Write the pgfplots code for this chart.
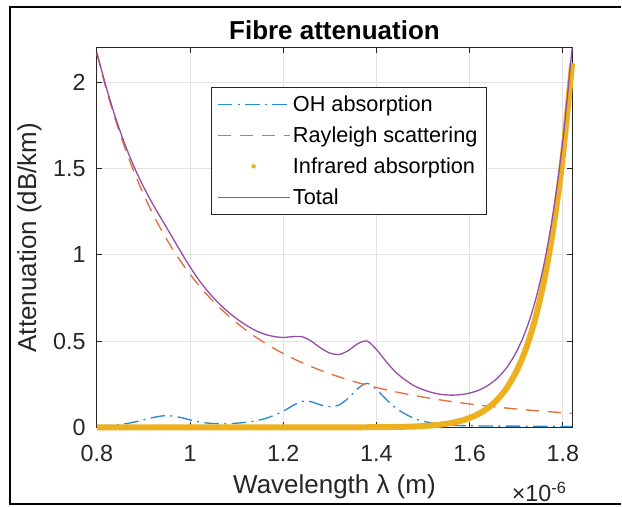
\documentclass[border=0pt]{standalone}
\usepackage{fontspec}
\setmainfont{Liberation Sans}
\usepackage{pgfplots}
\pgfplotsset{compat=1.18}
\usepackage{pgfplotstable}
\usetikzlibrary{calc}

\definecolor{AxInk}{HTML}{262626}
\definecolor{GridGray}{HTML}{E3E3E3}
\definecolor{MBlue}{HTML}{2A8AD0}
\definecolor{MOrange}{HTML}{E0703F}
\definecolor{MYellow}{HTML}{EDB120}
\definecolor{MPurple}{HTML}{9550A5}

% lambda (x1e-6 m), OH, Rayleigh, infrared, total (dB/km)
\pgfplotstableread{
lam  oh    ray    ir     tot
0.80 0.008 2.1665 0      2.1745
0.82 0.010 1.9628 0      1.9728
0.84 0.014 1.7824 0      1.7964
0.86 0.020 1.6223 0      1.6423
0.88 0.030 1.4798 0      1.5098
0.90 0.043 1.3526 0      1.3956
0.92 0.056 1.2387 0      1.2947
0.94 0.066 1.1366 0      1.2026
0.96 0.066 1.0448 0      1.1108
0.98 0.057 0.9621 0      1.0191
1.00 0.043 0.8874 0      0.9304
1.02 0.031 0.8198 0      0.8508
1.04 0.024 0.7586 0      0.7826
1.06 0.021 0.7029 0      0.7239
1.08 0.021 0.6523 0      0.6733
1.10 0.024 0.6061 0      0.6301
1.12 0.029 0.5640 0      0.5930
1.14 0.037 0.5254 0      0.5624
1.16 0.050 0.4901 0      0.5401
1.18 0.069 0.4577 0      0.5267
1.20 0.093 0.4280 0      0.5210
1.22 0.125 0.4006 0      0.5256
1.24 0.150 0.3754 0      0.5254
1.26 0.148 0.3521 0      0.5001
1.28 0.130 0.3306 0      0.4606
1.30 0.120 0.3107 0.0001 0.4308
1.32 0.130 0.2923 0.0001 0.4224
1.34 0.170 0.2752 0.0002 0.4454
1.36 0.225 0.2594 0.0003 0.4847
1.38 0.255 0.2447 0.0004 0.5001
1.40 0.220 0.2310 0.0007 0.4517
1.42 0.165 0.2183 0.0012 0.3845
1.44 0.115 0.2064 0.0019 0.3233
1.46 0.080 0.1953 0.0030 0.2783
1.48 0.053 0.1850 0.0046 0.2426
1.50 0.036 0.1753 0.0072 0.2185
1.52 0.024 0.1662 0.0110 0.2012
1.54 0.016 0.1578 0.0166 0.1904
1.56 0.012 0.1498 0.0249 0.1867
1.58 0.010 0.1424 0.0369 0.1893
1.60 0.009 0.1354 0.0541 0.1985
1.62 0.008 0.1288 0.0787 0.2155
1.64 0.008 0.1227 0.1134 0.2441
1.66 0.007 0.1169 0.1619 0.2858
1.68 0.007 0.1114 0.2292 0.3476
1.70 0.007 0.1062 0.3217 0.4349
1.72 0.006 0.1014 0.4484 0.5558
1.74 0.006 0.0968 0.6200 0.7228
1.76 0.006 0.0925 0.8513 0.9498
1.78 0.006 0.0884 1.1595 1.2539
1.80 0.005 0.0845 1.5699 1.6594
1.82 0.005 0.0809 2.1107 2.1966
}\atten

\begin{document}
\begin{tikzpicture}[font=\fontsize{17.5}{21}\selectfont]
  \begin{axis}[
    name=ax,
    at={(0,0)}, anchor=south west,
    scale only axis,
    width=357pt, height=285pt,
    xmin=0.8, xmax=1.82,
    ymin=0, ymax=2.2,
    xtick={0.8,1,1.2,1.4,1.6,1.8},
    ytick={0,0.5,1,1.5,2},
    /pgf/number format/assume math mode=true,
    tick pos=both,
    tick align=inside,
    major tick length=3.75pt,
    axis line style={AxInk, line width=0.8pt},
    tick style={AxInk, line width=0.6pt},
    grid=major,
    major grid style={GridGray, line width=0.6pt},
    xticklabel style={anchor=base, inner sep=0pt, yshift=-25.5pt, text=AxInk},
    yticklabel style={anchor=east, inner sep=0pt, xshift=-8.25pt, text=AxInk},
    xlabel={Wavelength λ (m)},
    ylabel={Attenuation (dB/km)},
    xlabel style={at={(axis description cs:0.5,-0.1737)}, anchor=base,
      font=\fontsize{19.5}{23}\selectfont, text=AxInk},
    ylabel style={at={(axis description cs:-0.128,0.5)}, anchor=base,
      font=\fontsize{19.5}{23}\selectfont, text=AxInk},
    title={Fibre attenuation},
    title style={at={(axis description cs:0.5,1)}, anchor=base, yshift=0.5pt,
      font=\bfseries\fontsize{19.5}{23}\selectfont},
    clip=false,
    legend image code/.code={\draw[#1] (0pt,0pt) -- (54pt,0pt);},
    legend cell align=left,
    legend style={at={(0.2395,0.897)}, anchor=north west,
      draw=AxInk, line width=0.6pt,
      font=\fontsize{16.3}{19}\selectfont,
      inner xsep=4.5pt, inner ysep=4pt, row sep=6pt},
  ]
    \addplot[MBlue, line width=1pt, smooth,
      dash pattern=on 11pt off 4pt on 1.5pt off 4pt]
      table[x=lam, y=oh] {\atten};
    \addlegendentry{OH absorption}
    \addplot[MOrange, line width=1pt, smooth, dash pattern=on 10pt off 6.5pt]
      table[x=lam, y=ray] {\atten};
    \addlegendentry{Rayleigh scattering}
    \addplot[MYellow, line width=4.5pt, smooth,
      legend image code/.code={\path[draw=none] (0pt,0pt) -- (54pt,0pt);
        \fill[MYellow, draw=none] (27pt,0pt) circle (1.7pt);}]
      table[x=lam, y=ir] {\atten};
    \addlegendentry{Infrared absorption}
    \addplot[MPurple, line width=1pt, smooth]
      table[x=lam, y=tot] {\atten};
    \addlegendentry{Total}
    \node[anchor=base, text=AxInk] at (rel axis cs:0.9307,-0.196)
      {×10\textsuperscript{-6}};
  \end{axis}
  % figure border (cut off on the right in the screenshot)
  \path ($(ax.south west)+(-72.75pt,-59.25pt)$) rectangle ($(ax.north east)+(36.75pt,36pt)$);
  \draw[black, line width=1.5pt]
    ($(ax.north east)+(36.75pt,30.75pt)$) -- ($(ax.north west)+(-65.6pt,30.75pt)$)
    -- ($(ax.south west)+(-65.6pt,-57.75pt)$) -- ($(ax.south east)+(36.75pt,-57.75pt)$);
\end{tikzpicture}
\end{document}
